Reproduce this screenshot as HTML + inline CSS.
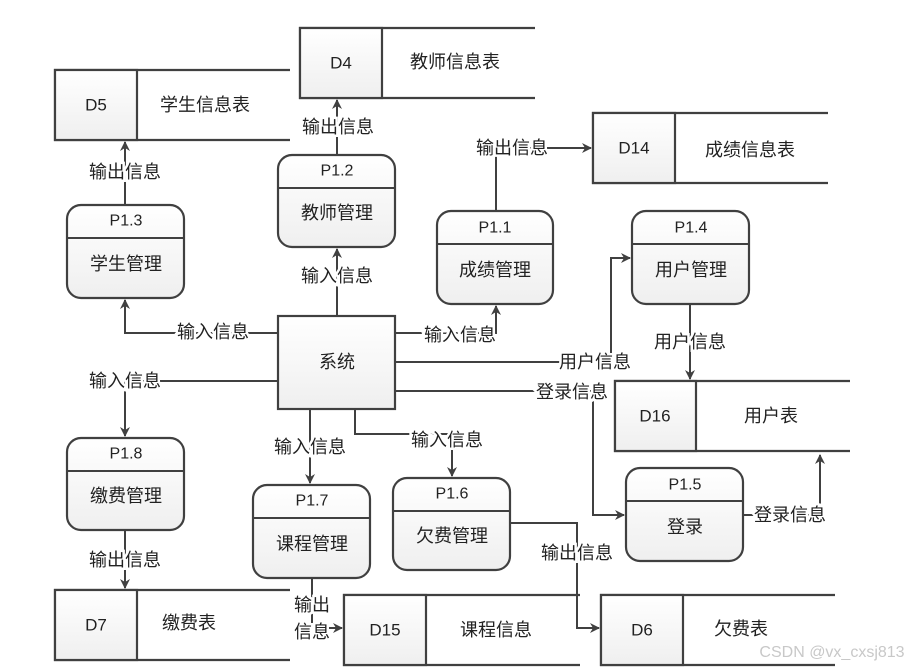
<!DOCTYPE html>
<html><head><meta charset="utf-8"><style>
html,body{margin:0;padding:0;background:#fff}
svg{display:block}
text{font-family:"Liberation Sans","Noto Sans CJK SC",sans-serif;fill:#222}
.l{font-size:18px;text-anchor:middle;dominant-baseline:central;paint-order:stroke;stroke:#fff;stroke-width:5px}
.t{font-size:18px;text-anchor:middle;dominant-baseline:central}
.p{font-size:16px;text-anchor:middle;dominant-baseline:central}
.ln{stroke:#404040;stroke-width:2;fill:none}
.bx{stroke:#404040;stroke-width:2.2;fill:url(#g)}
.op{stroke:#404040;stroke-width:2.2;fill:none}
</style></head><body>
<svg width="911" height="672" viewBox="0 0 911 672" xmlns="http://www.w3.org/2000/svg">
<defs>
<linearGradient id="g" x1="0" y1="0" x2="0" y2="1"><stop offset="0" stop-color="#ffffff"/><stop offset="1" stop-color="#efefef"/></linearGradient>
<marker id="a" markerWidth="10" markerHeight="10" refX="9" refY="5" orient="auto" markerUnits="userSpaceOnUse"><path d="M0,0 L10,5 L0,10 L3,5 z" fill="#404040"/></marker>
</defs>

<!-- data stores -->
<g>
<path class="op" d="M290,70 H55 V140 H290"/><rect x="55" y="70" width="82" height="70" class="bx"/>
<text class="p" x="96" y="105" style="font-size:17px">D5</text><text class="t" x="205" y="105">学生信息表</text>

<path class="op" d="M535,28 H300 V98 H535"/><rect x="300" y="28" width="82" height="70" class="bx"/>
<text class="p" x="341" y="63" style="font-size:17px">D4</text><text class="t" x="455" y="62">教师信息表</text>

<path class="op" d="M828,113 H593 V183 H828"/><rect x="593" y="113" width="82" height="70" class="bx"/>
<text class="p" x="634" y="148" style="font-size:17px">D14</text><text class="t" x="750" y="150">成绩信息表</text>

<path class="op" d="M850,381 H615 V451 H850"/><rect x="615" y="381" width="81" height="70" class="bx"/>
<text class="p" x="655" y="416" style="font-size:17px">D16</text><text class="t" x="771" y="416">用户表</text>

<path class="op" d="M290,590 H55 V660 H290"/><rect x="55" y="590" width="82" height="70" class="bx"/>
<text class="p" x="96" y="625" style="font-size:17px">D7</text><text class="t" x="189" y="623">缴费表</text>

<path class="op" d="M580,595 H344 V665 H580"/><rect x="344" y="595" width="82" height="70" class="bx"/>
<text class="p" x="385" y="630" style="font-size:17px">D15</text><text class="t" x="496" y="630">课程信息</text>

<path class="op" d="M835,595 H601 V665 H835"/><rect x="601" y="595" width="82" height="70" class="bx"/>
<text class="p" x="642" y="630" style="font-size:17px">D6</text><text class="t" x="741" y="629">欠费表</text>
</g>

<!-- connectors -->
<g class="ln">
<path d="M278,333 H125 V300" marker-end="url(#a)"/>
<path d="M337,316 V249" marker-end="url(#a)"/>
<path d="M337,155 V100" marker-end="url(#a)"/>
<path d="M125,205 V142" marker-end="url(#a)"/>
<path d="M395,333 H496 V306" marker-end="url(#a)"/>
<path d="M496,211 V148 H591" marker-end="url(#a)"/>
<path d="M395,362 H611 V258 H630" marker-end="url(#a)"/>
<path d="M690,304 V379" marker-end="url(#a)"/>
<path d="M395,391 H593 V515 H624" marker-end="url(#a)"/>
<path d="M743,515 H820 V455" marker-end="url(#a)"/>
<path d="M278,381 H125 V436" marker-end="url(#a)"/>
<path d="M310,409 V483" marker-end="url(#a)"/>
<path d="M355,409 V434 H452 V476" marker-end="url(#a)"/>
<path d="M125,530 V588" marker-end="url(#a)"/>
<path d="M312,578 V628 H342" marker-end="url(#a)"/>
<path d="M510,523 H577 V628 H599" marker-end="url(#a)"/>
</g>

<!-- processes -->
<g>
<rect x="67" y="205" width="117" height="93" rx="14" class="bx"/><line x1="67" y1="238" x2="184" y2="238" class="ln"/>
<text class="p" x="126" y="221">P1.3</text><text class="t" x="126" y="264">学生管理</text>

<rect x="278" y="155" width="117" height="92" rx="14" class="bx"/><line x1="278" y1="188" x2="395" y2="188" class="ln"/>
<text class="p" x="337" y="171">P1.2</text><text class="t" x="337" y="213">教师管理</text>

<rect x="437" y="211" width="116" height="93" rx="14" class="bx"/><line x1="437" y1="244" x2="553" y2="244" class="ln"/>
<text class="p" x="495" y="228">P1.1</text><text class="t" x="495" y="270">成绩管理</text>

<rect x="632" y="211" width="117" height="93" rx="14" class="bx"/><line x1="632" y1="244" x2="749" y2="244" class="ln"/>
<text class="p" x="691" y="228">P1.4</text><text class="t" x="691" y="270">用户管理</text>

<rect x="67" y="438" width="117" height="92" rx="14" class="bx"/><line x1="67" y1="471" x2="184" y2="471" class="ln"/>
<text class="p" x="126" y="454">P1.8</text><text class="t" x="126" y="496">缴费管理</text>

<rect x="253" y="485" width="117" height="93" rx="14" class="bx"/><line x1="253" y1="518" x2="370" y2="518" class="ln"/>
<text class="p" x="312" y="501">P1.7</text><text class="t" x="312" y="544">课程管理</text>

<rect x="393" y="478" width="117" height="92" rx="14" class="bx"/><line x1="393" y1="511" x2="510" y2="511" class="ln"/>
<text class="p" x="452" y="494">P1.6</text><text class="t" x="452" y="536">欠费管理</text>

<rect x="626" y="468" width="117" height="93" rx="14" class="bx"/><line x1="626" y1="501" x2="743" y2="501" class="ln"/>
<text class="p" x="685" y="485">P1.5</text><text class="t" x="685" y="527">登录</text>

<rect x="278" y="316" width="117" height="93" class="bx"/>
<text class="t" x="337" y="362">系统</text>
</g>

<!-- labels -->
<text class="l" x="213" y="332">输入信息</text>
<text class="l" x="337" y="276">输入信息</text>
<text class="l" x="338" y="127">输出信息</text>
<text class="l" x="125" y="172">输出信息</text>
<text class="l" x="460" y="335">输入信息</text>
<text class="l" x="512" y="148">输出信息</text>
<text class="l" x="595" y="362">用户信息</text>
<text class="l" x="690" y="342">用户信息</text>
<text class="l" x="572" y="392">登录信息</text>
<text class="l" x="790" y="515">登录信息</text>
<text class="l" x="125" y="381">输入信息</text>
<text class="l" x="310" y="447">输入信息</text>
<text class="l" x="447" y="440">输入信息</text>
<text class="l" x="125" y="560">输出信息</text>
<text class="l" x="312" y="605">输出</text>
<text class="l" x="312" y="632">信息</text>
<text class="l" x="577" y="553">输出信息</text>
<text x="832" y="657" style="font-size:16px;fill:#c8c8c8;text-anchor:middle">CSDN @vx_cxsj813</text>
</svg>
</body></html>
